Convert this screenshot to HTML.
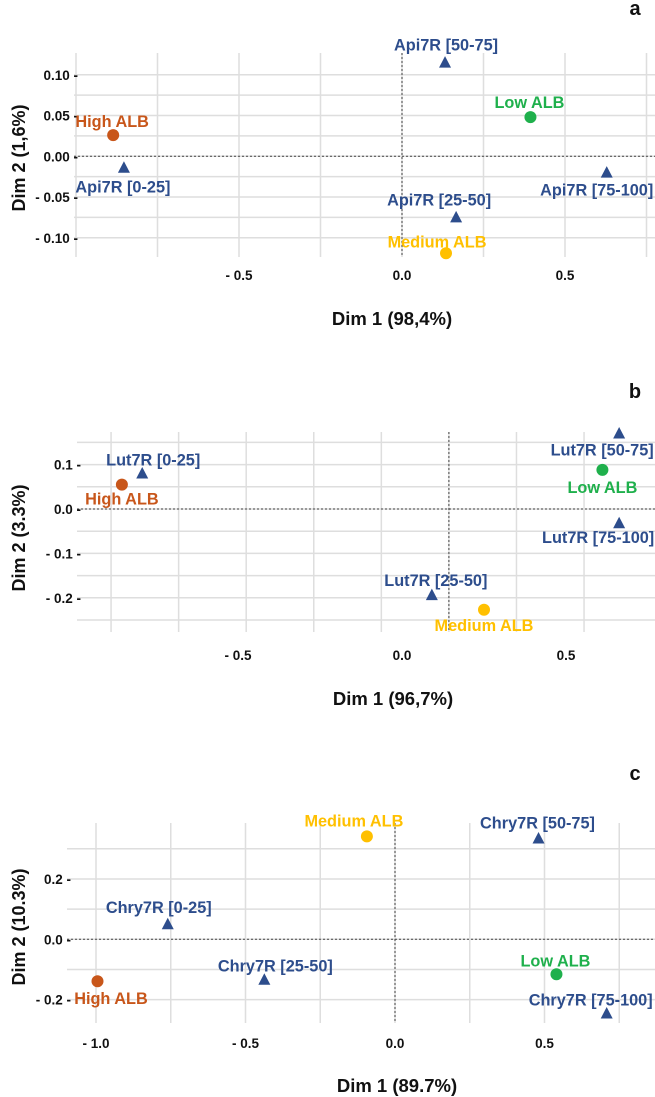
<!DOCTYPE html>
<html><head><meta charset="utf-8"><style>
html,body{margin:0;padding:0;background:#fff;}
svg{display:block;font-family:"Liberation Sans",Arial,sans-serif;font-weight:bold;}
</style></head><body>
<svg id="chart" width="655" height="1097" viewBox="0 0 655 1097" xmlns="http://www.w3.org/2000/svg"></svg>
<script>
// ---- Panel a data ----
const aNames = ["High ALB","Api7R [0-25]","Api7R [50-75]","Low ALB","Api7R [75-100]","Api7R [25-50]","Medium ALB"];
const aDim1 = [-0.886,-0.853,0.132,0.394,0.628,0.166,0.135];
const aDim2 = [0.026,-0.014,0.115,0.048,-0.020,-0.075,-0.119];
const aXTicks = [-0.5,0.0,0.5];
const aXTickLabels = ["- 0.5","0.0","0.5"];
const aYTicks = [0.10,0.05,0.00,-0.05,-0.10];
const aYTickLabels = ["0.10","0.05","0.00","- 0.05","- 0.10"];
// ---- Panel b data ----
const bNames = ["High ALB","Lut7R [0-25]","Lut7R [50-75]","Low ALB","Lut7R [75-100]","Lut7R [25-50]","Medium ALB"];
const bDim1 = [-0.854,-0.792,0.662,0.611,0.662,0.091,0.25];
const bDim2 = [0.055,0.080,0.170,0.088,-0.032,-0.194,-0.227];
const bXTicks = [-0.5,0.0,0.5];
const bXTickLabels = ["- 0.5","0.0","0.5"];
const bYTicks = [0.1,0.0,-0.1,-0.2];
const bYTickLabels = ["0.1","0.0","- 0.1","- 0.2"];
// ---- Panel c data ----
const cNames = ["High ALB","Chry7R [0-25]","Chry7R [50-75]","Low ALB","Chry7R [75-100]","Chry7R [25-50]","Medium ALB"];
const cDim1 = [-0.995,-0.76,0.48,0.54,0.708,-0.437,-0.094];
const cDim2 = [-0.139,0.050,0.334,-0.116,-0.246,-0.134,0.341];
const cXTicks = [-1.0,-0.5,0.0,0.5];
const cXTickLabels = ["- 1.0","- 0.5","0.0","0.5"];
const cYTicks = [0.2,0.0,-0.2];
const cYTickLabels = ["0.2","0.0","- 0.2"];

const NS="http://www.w3.org/2000/svg";
const svg=document.getElementById('chart');
function mk(tag,attrs,parent){const e=document.createElementNS(NS,tag);for(const k in attrs)e.setAttribute(k,attrs[k]);(parent||svg).appendChild(e);return e;}
const COL={"High ALB":"#c8561a","Low ALB":"#1fb04c","Medium ALB":"#ffc000"};
const BLUE="#2d4d8c";

function panel(p){
  const g=mk('g',{});
  
  
  const X=v=>p.x0+v*p.sx, Y=v=>p.y0-v*p.sy;
  p.vgrid.forEach(v=>{const l=mk('line',{x1:X(v),x2:X(v),y1:p.top,y2:p.bottom,stroke:'#dedede','stroke-width':1.5},g);
    });
  p.hgrid.forEach(v=>{const l=mk('line',{x1:p.left,x2:655,y1:Y(v),y2:Y(v),stroke:'#dedede','stroke-width':1.5},g);
    });
  let h=mk('line',{x1:p.left,x2:655,y1:Y(0),y2:Y(0),stroke:'#444','stroke-width':1,'stroke-dasharray':'2,2'},g);
  
  let v=mk('line',{x1:X(p.vref),x2:X(p.vref),y1:p.top,y2:p.bottom,stroke:'#444','stroke-width':1,'stroke-dasharray':'2,2'},g);
  
  p.yt.forEach((t,i)=>{const e=mk('text',{x:p.left+4,y:Y(t)+5,'text-anchor':'end','font-size':13.5,fill:'#111'},g);
    e.textContent=p.ytl[i]+' -';});
  p.xt.forEach((t,i)=>{const e=mk('text',{x:X(t),y:p.xtickY+5,'text-anchor':'middle','font-size':13.5,fill:'#111'},g);
    e.textContent=p.xtl[i];});
  let xt=mk('text',{x:p.xtitleX,y:p.xtitleY+7,'text-anchor':'middle','font-size':18.5,fill:'#111'},g);
  xt.textContent=p.xtitle;
  let yt=mk('text',{x:0,y:0,'text-anchor':'middle','font-size':18,fill:'#111',transform:`translate(25,${p.ytitleY}) rotate(-90)`},g);
  yt.textContent=p.ytitle;
  let pl=mk('text',{x:635,y:p.letterY+7,'text-anchor':'middle','font-size':20,fill:'#111'},g);
  pl.textContent=p.id;
  p.names.forEach((n,i)=>{
    const cx=X(p.d1[i]),cy=Y(p.d2[i]);
    const col=COL[n]||BLUE;
    let m;
    if(COL[n]){m=mk('circle',{cx:cx,cy:cy,r:6,fill:col},g);}
    else{m=mk('polygon',{points:`${cx},${cy-6.5} ${cx-6},${cy+5} ${cx+6},${cy+5}`,fill:col},g);}
    
    const o=p.off[i];
    const t=mk('text',{x:cx+o[0],y:cy+o[1]+6,'text-anchor':'middle','font-size':16.3,fill:col},g);
    t.textContent=n;
  });
}
function range(a,b,s){const r=[];for(let v=a;v<=b+1e-9;v+=s)r.push(+v.toFixed(4));return r;}

panel({id:'a',x0:402,sx:326,y0:156.3,sy:815,left:74,top:53,bottom:257,
  vgrid:range(-1,0.75,0.25),hgrid:range(-0.1,0.1,0.025),vref:0,
  xt:aXTicks,xtl:aXTickLabels,yt:aYTicks,ytl:aYTickLabels,xtickY:275,
  xtitle:'Dim 1 (98,4%)',xtitleX:392,xtitleY:318,ytitle:'Dim 2 (1,6%)',ytitleY:158,letterY:8,
  names:aNames,d1:aDim1,d2:aDim2,
  off:[[-1,-14],[-1,19],[1,-18],[-1,-15],[-10,17],[-17,-18],[-9,-12]]});

panel({id:'b',x0:402,sx:328,y0:509,sy:444,left:77,top:432,bottom:632,
  vgrid:range(-0.887,0.76,0.206),hgrid:range(-0.25,0.15,0.05),vref:0.143,
  xt:bXTicks,xtl:bXTickLabels,yt:bYTicks,ytl:bYTickLabels,xtickY:655,
  xtitle:'Dim 1 (96,7%)',xtitleX:393,xtitleY:698,ytitle:'Dim 2 (3.3%)',ytitleY:538,letterY:391,
  names:bNames,d1:bDim1,d2:bDim2,
  off:[[0,14],[11,-14],[-17,16],[0,17],[-21,14],[4,-15],[0,15]]});

panel({id:'c',x0:395,sx:299,y0:939.3,sy:301.7,left:67,top:823,bottom:1023,
  vgrid:range(-1,0.75,0.25),hgrid:range(-0.2,0.3,0.1),vref:0,
  xt:cXTicks,xtl:cXTickLabels,yt:cYTicks,ytl:cYTickLabels,xtickY:1043,
  xtitle:'Dim 1 (89.7%)',xtitleX:397,xtitleY:1085,ytitle:'Dim 2 (10.3%)',ytitleY:927,letterY:773,
  names:cNames,d1:cDim1,d2:cDim2,
  off:[[13.5,17],[-9,-17],[-1,-16],[-1,-14],[-16,-14],[11,-14],[-13,-16]]});
</script>
</body></html>
